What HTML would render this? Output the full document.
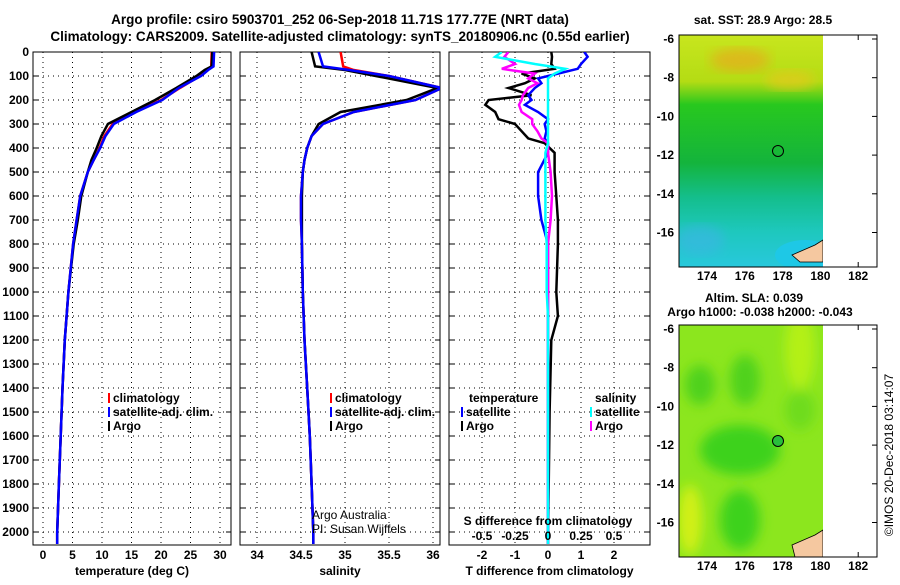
<!DOCTYPE html>
<html><head><meta charset="utf-8"><style>
body{margin:0;background:#fff;width:900px;height:580px;overflow:hidden}
svg{font-family:"Liberation Sans",sans-serif;font-weight:bold;font-size:12px}
</style></head><body>
<svg id="s" width="900" height="580" xmlns="http://www.w3.org/2000/svg">
<defs>
<linearGradient id="sst" x1="0" y1="0" x2="0" y2="1">
<stop offset="0" stop-color="#c8e61e"/><stop offset="0.2" stop-color="#b4dc14"/><stop offset="0.3" stop-color="#28c81e"/>
<stop offset="0.55" stop-color="#14b43c"/><stop offset="0.7" stop-color="#14be8c"/><stop offset="0.85" stop-color="#1ec8be"/><stop offset="1" stop-color="#28c8dc"/></linearGradient>
<filter id="bl"><feGaussianBlur stdDeviation="6"/></filter>
<clipPath id="c1"><rect x="679" y="35" width="144" height="232"/></clipPath>
<clipPath id="c2"><rect x="679" y="325" width="144" height="232"/></clipPath>
</defs>
<text x="340" y="24" text-anchor="middle" font-size="13.5">Argo profile: csiro 5903701_252 06-Sep-2018 11.71S 177.77E (NRT data)</text>
<text x="340" y="41" text-anchor="middle" font-size="13.5">Climatology: CARS2009. Satellite-adjusted climatology: synTS_20180906.nc (0.55d earlier)</text>
<g id="g"></g>
<g>
<text x="763" y="24" text-anchor="middle">sat. SST: 28.9 Argo: 28.5</text>
<rect x="679" y="35" width="144" height="232" fill="url(#sst)"/>
<g clip-path="url(#c1)">
<ellipse cx="740" cy="60" rx="30" ry="12" fill="#f0a01e" opacity="0.6" filter="url(#bl)"/>
<ellipse cx="790" cy="80" rx="25" ry="10" fill="#e6c81e" opacity="0.7" filter="url(#bl)"/>
<ellipse cx="700" cy="240" rx="25" ry="15" fill="#3cb4e6" opacity="0.6" filter="url(#bl)"/>
<ellipse cx="805" cy="255" rx="30" ry="15" fill="#1ec8e6"/>
<path d="M792 255 L815 245 L823 240 L823 262 L800 262Z" fill="#f5c8a0" stroke="#000" stroke-width="0.8"/>
</g>
<rect x="679" y="35" width="198" height="232" fill="none" stroke="#000"/>
<circle cx="778" cy="151" r="5.5" fill="none" stroke="#000"/>
</g>
<g>
<text x="754" y="302" text-anchor="middle">Altim. SLA: 0.039</text>
<text x="760" y="316" text-anchor="middle">Argo h1000: -0.038 h2000: -0.043</text>
<rect x="679" y="325" width="144" height="232" fill="#8ce61e"/>
<g clip-path="url(#c2)" filter="url(#bl)">
<ellipse cx="740" cy="450" rx="40" ry="25" fill="#3cd21e"/>
<ellipse cx="745" cy="380" rx="15" ry="25" fill="#50d21e"/>
<ellipse cx="700" cy="385" rx="15" ry="20" fill="#50d21e"/>
<ellipse cx="740" cy="520" rx="20" ry="30" fill="#3cd21e"/>
<ellipse cx="800" cy="350" rx="15" ry="40" fill="#b4f014"/>
<ellipse cx="690" cy="520" rx="12" ry="35" fill="#d2f014"/>
<ellipse cx="800" cy="410" rx="15" ry="20" fill="#6edc1e"/>
</g>
<g clip-path="url(#c2)"><path d="M792 545 L815 535 L823 530 L823 557 L795 557Z" fill="#f5c8a0" stroke="#000" stroke-width="0.8"/></g>
<rect x="679" y="325" width="198" height="232" fill="none" stroke="#000"/>
<circle cx="778" cy="441" r="5.5" fill="#28be3c" stroke="#000"/>
</g>
<text transform="translate(893,455) rotate(-90)" text-anchor="middle" font-weight="normal" font-size="12">©IMOS 20-Dec-2018 03:14:07</text>
</svg>
<script>
const depthTicks=[0,100,200,300,400,500,600,700,800,900,1000,1100,1200,1300,1400,1500,1600,1700,1800,1900,2000];
const tTicks=[0,5,10,15,20,25,30];
const sTicks=[34,34.5,35,35.5,36];
const dtTicks=[-2,-1,0,1,2];
const dsTicks=[-0.5,-0.25,0,0.25,0.5];
const dsTickLabels=["-0.5","-0.25","0","0.25","0.5"];
const depths=[0,60,75,100,150,200,250,300,350,400,450,500,600,700,800,1000,1200,1400,1600,1800,2000,2050];
const tClim=[28.6,28.5,27.8,26.6,23.2,20.0,15.6,11.8,10.4,9.6,8.6,7.6,6.3,5.7,5.1,4.3,3.7,3.3,3.0,2.7,2.4,2.4];
const tSat=[29.0,28.9,28.0,26.8,23.0,20.2,15.8,12.0,10.6,9.7,8.6,7.6,6.3,5.7,5.1,4.3,3.7,3.3,3.0,2.7,2.4,2.4];
const tArgo=[28.7,28.6,27.4,26.0,22.6,19.0,15.0,11.0,9.9,9.1,8.2,7.6,6.5,5.9,5.2,4.3,3.7,3.3,3.0,2.7,2.4,2.4];
const sClim=[34.95,34.98,35.1,35.5,36.1,35.8,35.1,34.75,34.62,34.57,34.54,34.52,34.5,34.5,34.51,34.52,34.54,34.57,34.6,34.62,34.64,34.64];
const sSat=[34.7,34.75,35.05,35.5,36.1,35.8,35.1,34.75,34.62,34.57,34.54,34.52,34.5,34.5,34.51,34.52,34.54,34.57,34.6,34.62,34.64,34.64];
const sArgo=[34.62,34.66,35.0,35.35,36.05,35.7,34.95,34.7,34.62,34.57,34.54,34.52,34.51,34.51,34.51,34.52,34.54,34.57,34.6,34.62,34.64,34.64];
const dDepths=[0,20,50,70,90,110,130,150,180,200,220,250,280,300,330,360,380,420,500,600,700,800,1000,1100,1200,1500,2050];
const dtArgo=[0.1,0.12,0.1,0.2,-0.8,-0.4,-0.7,-1.2,-0.5,-1.8,-1.9,-1.6,-1.5,-1.0,-0.8,-0.6,-0.1,0.2,0.2,0.25,0.3,0.3,0.25,0.3,0.1,0.05,0.0];
const dtSat=[1.1,1.2,1.0,0.9,0.3,-0.3,-0.2,-0.4,-0.6,-0.5,-0.7,-0.3,0.0,-0.1,-0.05,-0.1,0.0,0.0,-0.3,-0.3,-0.2,0.0,0.0,0.0,0.0,0.0,0.0];
const dsArgo=[-0.3,-0.33,-0.25,-0.35,-0.1,-0.15,-0.08,-0.15,-0.19,-0.2,-0.22,-0.2,-0.12,-0.12,-0.08,-0.05,0.0,0.0,0.02,0.03,0.02,0.0,0.0,0.0,0.0,0.0,0.0];
const dsSat=[-0.35,-0.4,-0.1,0.13,0.05,0.0,0.0,0.0,0.0,0.0,0.0,0.0,0.0,0.0,0.0,0.0,0.0,-0.02,-0.02,-0.02,-0.02,-0.01,-0.01,0.0,0.0,0.0,0.0];
const mapLat=[-6,-8,-10,-12,-14,-16];
const mapLon=[174,176,178,180,182];

const NS="http://www.w3.org/2000/svg";
const G=document.getElementById('g');
function mk(t,a,p){const e=document.createElementNS(NS,t);for(const k in a)e.setAttribute(k,a[k]);(p||G).appendChild(e);return e;}
const Y0=52,Y1=545;
const yD=d=>Y0+d*0.24;
const xT=v=>43+v*5.9;
const xS=v=>257+(v-34)*88;
const xDT=v=>548+v*33;
const xDS=v=>548+v*132;
const panels=[[33,231,tTicks,xT,tTicks.map(String),"temperature (deg C)","temperature-panel"],
 [240,440,sTicks,xS,["34","34.5","35","35.5","36"],"salinity","salinity-panel"],
 [449,650,dtTicks,xDT,dtTicks.map(String),"T difference from climatology","difference-panel"]];
panels.forEach(([l,r,ticks,fx,labs,title,name],pi)=>{
 const g=mk('g',{});
 
 
 const cp=mk('clipPath',{id:'cp'+pi},g);mk('rect',{x:l,y:Y0,width:r-l,height:Y1-Y0},cp);
 depthTicks.forEach(d=>{mk('line',{x1:l,x2:r,y1:yD(d),y2:yD(d),stroke:'#000','stroke-dasharray':'1 4'},g);
  mk('line',{x1:l,x2:l+5,y1:yD(d),y2:yD(d),stroke:'#000'},g);mk('line',{x1:r-5,x2:r,y1:yD(d),y2:yD(d),stroke:'#000'},g);});
 ticks.forEach((t,i)=>{const x=fx(t);mk('line',{x1:x,x2:x,y1:Y0,y2:Y1,stroke:'#000','stroke-dasharray':'1 4'},g);
  const tx=mk('text',{x:x,y:559,'text-anchor':'middle'},g);tx.textContent=labs[i];});
 const tt=mk('text',{x:(l+r)/2,y:575,'text-anchor':'middle'},g);tt.textContent=title;
 
 
 mk('rect',{x:l,y:Y0,width:r-l,height:Y1-Y0,fill:'none',stroke:'#000'},g);
});
depthTicks.forEach(d=>{const t=mk('text',{x:29,y:yD(d)+4,'text-anchor':'end'});t.textContent=d;
 
 });
function line(xs,ds,fx,col,pi,name,w){const g=mk('g',{'clip-path':'url(#cp'+pi+')'});
 const p=mk('path',{d:xs.map((v,i)=>(i?'L':'M')+fx(v).toFixed(1)+' '+yD(ds[i]).toFixed(1)).join(''),fill:'none',stroke:col,'stroke-width':w||2.5},g);
 
 }
line(tClim,depths,xT,'#f00',0,'temp-climatology-line');
line(tArgo,depths,xT,'#000',0,'temp-argo-line');
line(tSat,depths,xT,'#00f',0,'temp-satellite-line');
line(sClim,depths,xS,'#f00',1,'sal-climatology-line');
line(sArgo,depths,xS,'#000',1,'sal-argo-line');
line(sSat,depths,xS,'#00f',1,'sal-satellite-line');
line(dtArgo,dDepths,xDT,'#000',2,'dt-argo-line');
line(dtSat,dDepths,xDT,'#00f',2,'dt-satellite-line');
line(dsArgo,dDepths,xDS,'#f0f',2,'ds-argo-line');
line(dsSat,dDepths,xDS,'#0ff',2,'ds-satellite-line');
function leg(x,y,col,txt){mk('rect',{x:x,y:y-9,width:2,height:10,fill:col});
 const t=mk('text',{x:x+5,y:y});t.textContent=txt;
 
 }
leg(108,402,'#f00','climatology');leg(108,416,'#00f','satellite-adj. clim.');leg(108,430,'#000','Argo');
leg(330,402,'#f00','climatology');leg(330,416,'#00f','satellite-adj. clim.');leg(330,430,'#000','Argo');
let t=mk('text',{x:469,y:402});t.textContent='temperature';
t=mk('text',{x:595,y:402});t.textContent='salinity';
leg(461,416,'#00f','satellite');leg(461,430,'#000','Argo');
leg(590,416,'#0ff','satellite');leg(590,430,'#f0f','Argo');
t=mk('text',{x:548,y:525,'text-anchor':'middle'});t.textContent='S difference from climatology';
dsTicks.forEach((v,i)=>{const e=mk('text',{x:xDS(v),y:540,'text-anchor':'middle'});e.textContent=dsTickLabels[i];});
t=mk('text',{x:312,y:519,'font-weight':'normal'});t.textContent='Argo Australia';
t=mk('text',{x:312,y:533,'font-weight':'normal'});t.textContent='PI: Susan Wijffels';
[[35,267,280],[325,557,570]].forEach(([top,bot,ly])=>{
 mapLat.forEach(v=>{const y=top+4+(v+6)/-2*38.7;mk('line',{x1:679,x2:684,y1:y,y2:y,stroke:'#000'});mk('line',{x1:872,x2:877,y1:y,y2:y,stroke:'#000'});
  const e=mk('text',{x:674,y:y+4,'text-anchor':'end'});e.textContent=v;});
 mapLon.forEach(v=>{const x=707+(v-174)/2*37.8;mk('line',{x1:x,x2:x,y1:top,y2:top+5,stroke:'#000'});mk('line',{x1:x,x2:x,y1:bot-5,y2:bot,stroke:'#000'});
  const e=mk('text',{x:x,y:ly,'text-anchor':'middle'});e.textContent=v;});
});
</script>
</body></html>
